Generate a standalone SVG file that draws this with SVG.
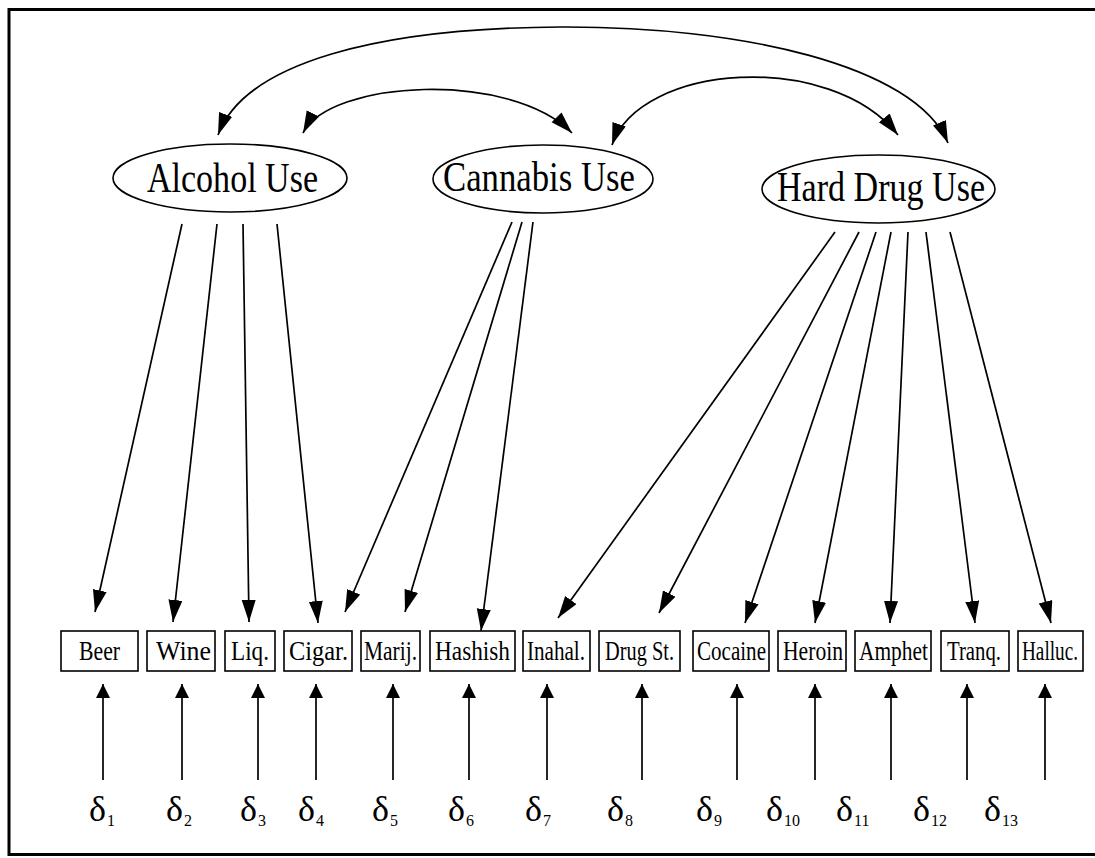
<svg xmlns="http://www.w3.org/2000/svg" width="1095" height="858" viewBox="0 0 1095 858">
<defs>
<marker id="ah" markerUnits="userSpaceOnUse" markerWidth="24" markerHeight="16" refX="22" refY="7" orient="auto-start-reverse"><path d="M0,0 L22,7 L0,14 Z" fill="#000"/></marker>
<marker id="ahs" markerUnits="userSpaceOnUse" markerWidth="16" markerHeight="16" refX="14" refY="7" orient="auto"><path d="M0,0 L14,7 L0,14 Z" fill="#000"/></marker>
<style>
.lat{fill:#fff;stroke:#000;stroke-width:1.6}
.lt{font-family:"Liberation Serif","Times New Roman",serif;font-size:42px;fill:#000}
.box{fill:#fff;stroke:#000;stroke-width:1.6}
.bt{font-family:"Liberation Serif","Times New Roman",serif;font-size:28px;fill:#000}
.dt{font-family:"Liberation Serif","Times New Roman",serif;font-size:36px;fill:#000}
.sub{font-size:16px}
.cv{fill:none;stroke:#000;stroke-width:1.7;marker-start:url(#ah);marker-end:url(#ah)}
.d{fill:none;stroke:#000;stroke-width:1.7;marker-end:url(#ah)}
.u{fill:none;stroke:#000;stroke-width:1.7;marker-end:url(#ahs)}
</style>
</defs>
<rect x="0" y="0" width="1095" height="858" fill="#fff"/>
<path d="M1095,9.5 H9 V854.5 H1095" fill="none" stroke="#000" stroke-width="3"/>

<g id="connectors">
  <path class="cv" d="M218,135 C245,62 380,28 560,27 C740,26 915,65 948,143"/>
  <path class="cv" d="M303,133 C330,80 510,70 572,133"/>
  <path class="cv" d="M612,145 C640,63 830,50 898,135"/>

  <line class="d" x1="182" y1="224" x2="95" y2="612"/>
  <line class="d" x1="217" y1="224" x2="173" y2="622"/>
  <line class="d" x1="243" y1="224" x2="249" y2="622"/>
  <line class="d" x1="277" y1="224" x2="318" y2="623"/>

  <line class="d" x1="512" y1="222" x2="345" y2="612"/>
  <line class="d" x1="522" y1="222" x2="405" y2="612"/>
  <line class="d" x1="533" y1="222" x2="481" y2="631"/>

  <line class="d" x1="835" y1="232" x2="558" y2="618"/>
  <line class="d" x1="859" y1="232" x2="659" y2="613"/>
  <line class="d" x1="876" y1="232" x2="745" y2="623"/>
  <line class="d" x1="891" y1="232" x2="815" y2="623"/>
  <line class="d" x1="908" y1="232" x2="890" y2="623"/>
  <line class="d" x1="926" y1="232" x2="975" y2="623"/>
  <line class="d" x1="950" y1="232" x2="1051" y2="623"/>

  <line class="u" x1="103" y1="780" x2="103" y2="684"/>
  <line class="u" x1="182" y1="780" x2="182" y2="684"/>
  <line class="u" x1="258" y1="780" x2="258" y2="684"/>
  <line class="u" x1="316" y1="780" x2="316" y2="684"/>
  <line class="u" x1="393" y1="780" x2="393" y2="684"/>
  <line class="u" x1="469" y1="780" x2="469" y2="684"/>
  <line class="u" x1="547" y1="780" x2="547" y2="684"/>
  <line class="u" x1="642" y1="780" x2="642" y2="684"/>
  <line class="u" x1="737" y1="780" x2="737" y2="684"/>
  <line class="u" x1="815" y1="780" x2="815" y2="684"/>
  <line class="u" x1="891" y1="780" x2="891" y2="684"/>
  <line class="u" x1="967" y1="780" x2="967" y2="684"/>
  <line class="u" x1="1045" y1="780" x2="1045" y2="684"/>
</g>

<g id="alcohol"><ellipse class="lat" cx="230" cy="178" rx="117" ry="34"/><text class="lt" x="147" y="192" textLength="171" lengthAdjust="spacingAndGlyphs">Alcohol Use</text></g>
<g id="cannabis"><ellipse class="lat" cx="543" cy="179" rx="110" ry="34"/><text class="lt" x="443" y="191" textLength="192" lengthAdjust="spacingAndGlyphs">Cannabis Use</text></g>
<g id="harddrug"><ellipse class="lat" cx="878.5" cy="189" rx="116.5" ry="34"/><text class="lt" x="777" y="201" textLength="208" lengthAdjust="spacingAndGlyphs">Hard Drug Use</text></g>

<g id="beer"><rect class="box" x="61" y="631" width="77" height="40"/><text class="bt" x="79" y="660" font-size="25" textLength="41" lengthAdjust="spacingAndGlyphs">Beer</text></g>
<g id="wine"><rect class="box" x="147" y="631" width="68" height="40"/><text class="bt" x="156" y="660" textLength="55" lengthAdjust="spacingAndGlyphs">Wine</text></g>
<g id="liq"><rect class="box" x="225" y="631" width="50" height="40"/><text class="bt" x="231" y="660" textLength="38" lengthAdjust="spacingAndGlyphs">Liq.</text></g>
<g id="cigar"><rect class="box" x="284" y="631" width="68" height="40"/><text class="bt" x="289" y="660" textLength="59" lengthAdjust="spacingAndGlyphs">Cigar.</text></g>
<g id="marij"><rect class="box" x="361" y="631" width="59" height="40"/><text class="bt" x="364" y="660" textLength="53" lengthAdjust="spacingAndGlyphs">Marij.</text></g>
<g id="hashish"><rect class="box" x="430" y="631" width="85" height="40"/><text class="bt" x="435" y="660" textLength="75" lengthAdjust="spacingAndGlyphs">Hashish</text></g>
<g id="inahal"><rect class="box" x="523" y="631" width="67" height="40"/><text class="bt" x="527" y="660" textLength="58" lengthAdjust="spacingAndGlyphs">Inahal.</text></g>
<g id="drugst"><rect class="box" x="599" y="631" width="81" height="40"/><text class="bt" x="605" y="660" textLength="69" lengthAdjust="spacingAndGlyphs">Drug St.</text></g>
<g id="cocaine"><rect class="box" x="693" y="631" width="76" height="40"/><text class="bt" x="697" y="660" textLength="69" lengthAdjust="spacingAndGlyphs">Cocaine</text></g>
<g id="heroin"><rect class="box" x="778" y="631" width="68" height="40"/><text class="bt" x="783" y="660" textLength="60" lengthAdjust="spacingAndGlyphs">Heroin</text></g>
<g id="amphet"><rect class="box" x="855" y="631" width="76" height="40"/><text class="bt" x="859" y="660" textLength="69" lengthAdjust="spacingAndGlyphs">Amphet</text></g>
<g id="tranq"><rect class="box" x="941" y="631" width="68" height="40"/><text class="bt" x="947" y="660" textLength="54" lengthAdjust="spacingAndGlyphs">Tranq.</text></g>
<g id="halluc"><rect class="box" x="1018" y="631" width="65" height="40"/><text class="bt" x="1078" y="660" text-anchor="end" textLength="56" lengthAdjust="spacingAndGlyphs">Halluc.</text></g>

<g id="deltas">
  <text class="dt" x="89" y="821">δ<tspan class="sub" dx="1" dy="5">1</tspan></text>
  <text class="dt" x="166" y="821">δ<tspan class="sub" dx="1" dy="5">2</tspan></text>
  <text class="dt" x="240" y="821">δ<tspan class="sub" dx="1" dy="5">3</tspan></text>
  <text class="dt" x="298" y="821">δ<tspan class="sub" dx="1" dy="5">4</tspan></text>
  <text class="dt" x="372" y="821">δ<tspan class="sub" dx="1" dy="5">5</tspan></text>
  <text class="dt" x="448" y="821">δ<tspan class="sub" dx="1" dy="5">6</tspan></text>
  <text class="dt" x="525" y="821">δ<tspan class="sub" dx="1" dy="5">7</tspan></text>
  <text class="dt" x="607" y="821">δ<tspan class="sub" dx="1" dy="5">8</tspan></text>
  <text class="dt" x="696" y="821">δ<tspan class="sub" dx="1" dy="5">9</tspan></text>
  <text class="dt" x="766" y="821">δ<tspan class="sub" dx="1" dy="5">10</tspan></text>
  <text class="dt" x="836" y="821">δ<tspan class="sub" dx="1" dy="5">11</tspan></text>
  <text class="dt" x="913" y="821">δ<tspan class="sub" dx="1" dy="5">12</tspan></text>
  <text class="dt" x="984" y="821">δ<tspan class="sub" dx="1" dy="5">13</tspan></text>
</g>
</svg>
